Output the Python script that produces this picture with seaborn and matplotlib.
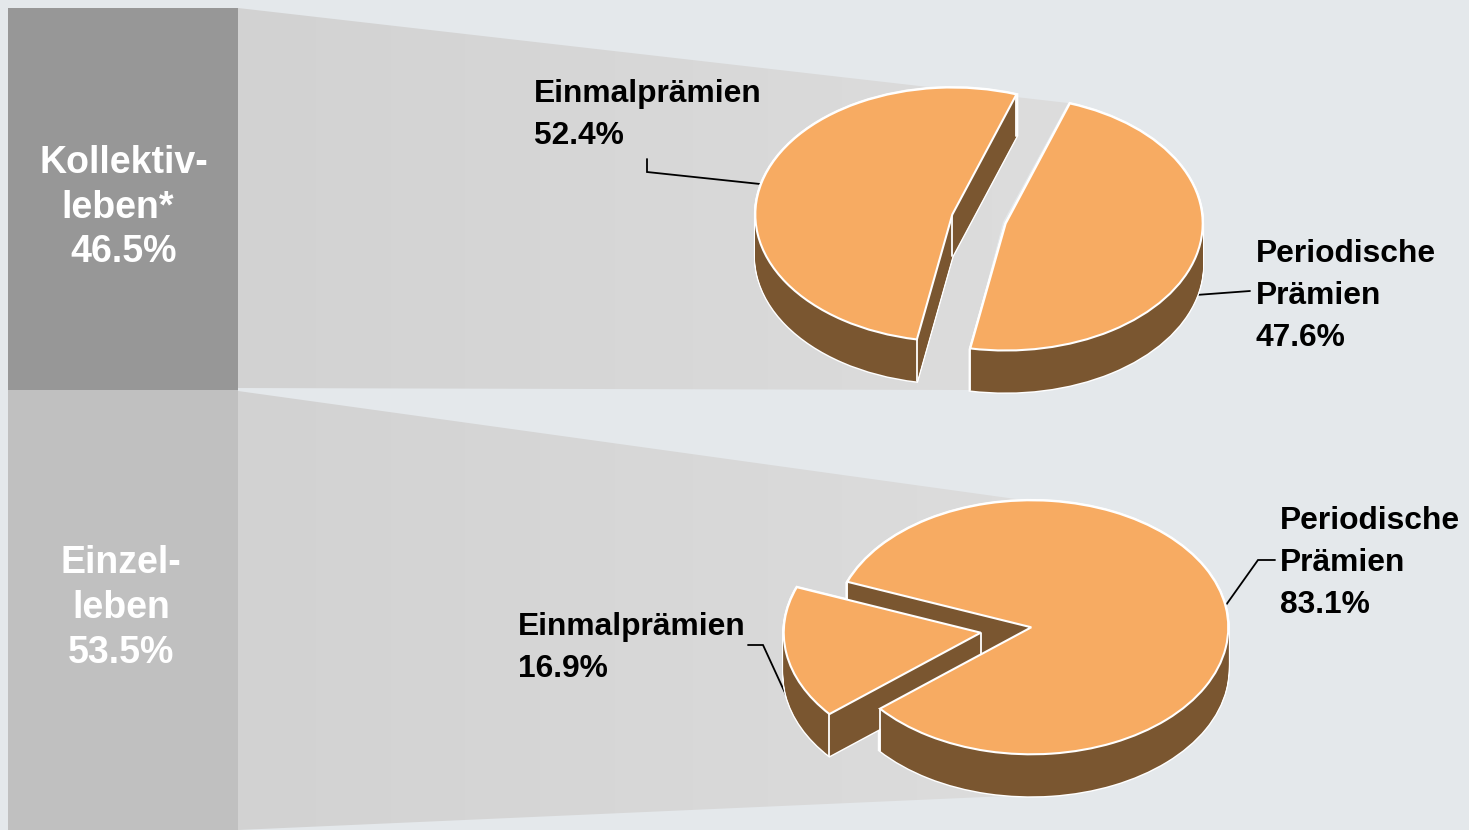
import matplotlib
matplotlib.use("Agg")
import matplotlib.pyplot as plt
import numpy as np
import pandas as pd
import seaborn as sns
from matplotlib.colors import to_rgb
from matplotlib.patches import Polygon

sns.set_theme(style="white")
plt.rcParams["font.family"] = ["Liberation Sans", "DejaVu Sans"]

W, H = 1469, 830

# data
segment_shares = [53.5, 46.5]
segment_labels = [["Einzel-", "leben", "53.5%"], ["Kollektiv-", "leben*", "46.5%"]]
premium_names = ["Einmalprämien", "Periodische\nPrämien"]
kollektiv_values = [52.4, 47.6]
einzel_values = [16.9, 83.1]

bg, orange, brown = "#E4E8EB", "#F7AB62", "#7A5630"
box_dark, box_light = "#979797", "#C0C0C0"
fig = plt.figure(figsize=(W / 100, H / 100), dpi=100, facecolor=bg)

# background layer in pixel coordinates
bgax = fig.add_axes([0, 0, 1, 1])
bgax.axis("off")
left = np.array(to_rgb("#D2D2D2"))
right = np.array(to_rgb("#DDDDDD"))
grad = np.linspace(0, 1, 256)[None, :, None] * (right - left) + left
funnels = [
    [(238, 8), (1068, 103), (1003, 222), (970, 349), (970, 390), (238, 388)],
    [(238, 391), (1030, 501), (1030, 795), (238, 830)],
]
for pts in funnels:
    im = bgax.imshow(grad, extent=(238, 1070, 830, 0), aspect="auto", zorder=1)
    im.set_clip_path(Polygon(pts, transform=bgax.transData))
bgax.set_xlim(0, W)
bgax.set_ylim(H, 0)

# stacked boxes on the left, heights are the shares
boxax = fig.add_axes([8 / W, 0, 230 / W, 822 / H])
boxax.set_zorder(-1)
sns.barplot(x=["Anteil"], y=[segment_shares[0]], color=box_light, width=1,
            saturation=1, ax=boxax, linewidth=0)
sns.barplot(x=["Anteil"], y=[segment_shares[1]], color=box_dark, width=1,
            saturation=1, ax=boxax, linewidth=0, bottom=segment_shares[0])
boxax.set_xlim(-0.5, 0.5)
boxax.set_ylim(0, sum(segment_shares))
boxax.axis("off")


def label(x, y, lines, color="black", size=22.9, step=42, ha="left", shifts=(0, 0, 0)):
    for i, line in enumerate(lines):
        bgax.text(x + shifts[i], y + i * step, line, color=color, fontsize=size, fontweight="bold",
                  ha=ha, va="center", zorder=5)


label(124, 163, segment_labels[1], color="white", size=27, step=44.5, ha="center", shifts=(0, -6, 0))
label(121, 563, segment_labels[0], color="white", size=27, step=45, ha="center")

label(534, 94, [premium_names[0], f"{kollektiv_values[0]}%"])
label(1256, 254, premium_names[1].split("\n") + [f"{kollektiv_values[1]}%"])
label(518, 627, [premium_names[0], f"{einzel_values[0]}%"])
label(1280, 521, premium_names[1].split("\n") + [f"{einzel_values[1]}%"])

# leader lines
leaders = [
    [(647, 159), (647, 172), (760, 184)],
    [(1196, 295), (1250, 291)],
    [(1226, 605), (1258, 560), (1275, 560)],
    [(748, 645), (763, 645), (786, 695)],
]
for pts in leaders:
    xs, ys = zip(*pts)
    bgax.plot(xs, ys, color="black", lw=1.3, zorder=4, solid_joinstyle="miter")
bgax.set_xlim(0, W)
bgax.set_ylim(H, 0)


def pie3d(values, cx, cy, startangle, explode, rx=197, ry=127, depth=42):
    ax = fig.add_axes([(cx - 2 * rx) / W, 1 - (cy + 2 * ry) / H, 4 * rx / W, 4 * ry / H])
    ax.patch.set_alpha(0)
    unit = 1 / ry
    boom = [explode, explode]
    # white silhouette first, brown side wall over it
    for px in range(depth, -1, -1):
        ax.pie(values, explode=boom, startangle=startangle, center=(0, -px * unit),
               colors=["white"], wedgeprops=dict(lw=2, edgecolor="white", zorder=1))
    for px in range(depth, -1, -1):
        wedges, _ = ax.pie(values, explode=boom, startangle=startangle, center=(0, -px * unit),
                           colors=[brown], wedgeprops=dict(lw=0, zorder=1.5))
    # vertical edges of the wall
    for wd in wedges:
        c = np.array(wd.center)
        corners = [c]
        for th in (wd.theta1, wd.theta2):
            corners.append(c + np.array([np.cos(np.radians(th)), np.sin(np.radians(th))]))
        for p in corners:
            ax.plot([p[0], p[0]], [p[1], p[1] - depth * unit], color="white", lw=1.3, zorder=2)
    ax.pie(values, explode=boom, startangle=startangle, colors=[orange],
           wedgeprops=dict(lw=1.5, edgecolor="white", zorder=3))
    ax.set_aspect("auto")
    ax.set_xlim(-2, 2)
    ax.set_ylim(-2, 2)
    ax.axis("off")


pie3d(kollektiv_values, 979, 219, 71, 0.14)
pie3d(einzel_values, 1006, 630, 159, 0.13)

fig.savefig("out.png", dpi=100, facecolor=bg)
